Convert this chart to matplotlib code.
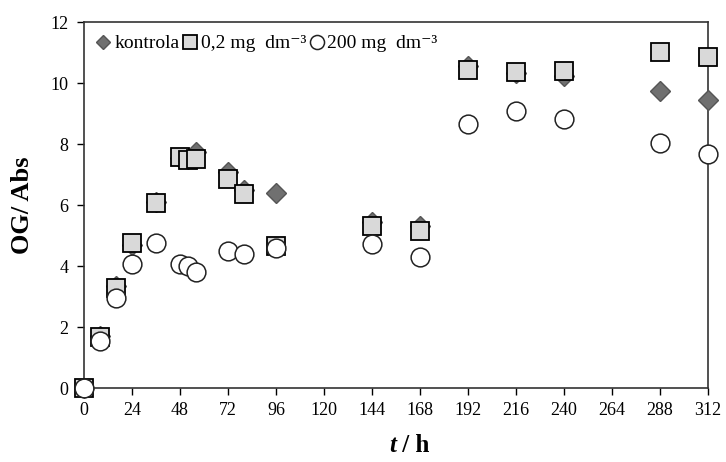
import matplotlib.pyplot as plt

plt.rcParams['font.family'] = ['Liberation Serif', 'DejaVu Serif']

t = [0, 8, 16, 24, 36, 48, 52, 56, 72, 80, 96, 144, 168, 192, 216, 240, 288, 312]
kontrola = [0, 1.7, 3.35, 4.7, 6.1, 7.55, 7.5, 7.75, 7.1, 6.5, 6.39, 5.45, 5.3, 10.56, 10.33, 10.25, 9.74, 9.44]
c02 = [0, 1.67, 3.28, 4.75, 6.07, 7.57, 7.48, 7.5, 6.85, 6.36, 4.66, 5.31, 5.15, 10.43, 10.36, 10.39, 11.02, 10.85]
c200 = [0, 1.54, 2.95, 4.07, 4.75, 4.07, 4.0, 3.82, 4.5, 4.4, 4.6, 4.72, 4.3, 8.66, 9.08, 8.82, 8.03, 7.67]

fig = plt.figure(figsize=(7.26, 4.62), dpi=100)
ax = fig.add_axes([0.1157, 0.160, 0.8593, 0.792])

ax.plot(t, kontrola, 'D', ms=10, mfc='#707070', mec='#555555', mew=1,
        label='kontrola', clip_on=False, zorder=3)
ax.plot(t, c02, 's', ms=13, mfc='#d9d9d9', mec='black', mew=1.3,
        label='0,2 mg  dm\u207b\u00b3', clip_on=False, zorder=4)
ax.plot(t, c200, 'o', ms=13.5, mfc='white', mec='#222222', mew=1.1,
        label='200 mg  dm\u207b\u00b3', clip_on=False, zorder=5)

ax.set_xlim(0, 312)
ax.set_ylim(0, 12)
ax.set_xticks(range(0, 313, 24))
ax.set_yticks(range(0, 13, 2))
ax.tick_params(direction='out', length=5, width=1, labelsize=13)
ax.tick_params(axis='x', pad=5)
ax.tick_params(axis='y', pad=6)
for s in ax.spines.values():
    s.set_linewidth(1.2)
    s.set_color('#333333')

# t / h label, italic t
fig.text(0.5455, 0.022, 't', fontsize=18, fontweight='bold', style='italic', ha='right')
fig.text(0.5455, 0.022, ' / h', fontsize=18, fontweight='bold', ha='left')
ax.set_ylabel('OG/ Abs', fontsize=19, fontweight='bold', labelpad=12)

leg = ax.legend(loc='upper left', ncol=3, frameon=False, fontsize=14,
                markerscale=0.75, handlelength=0.7, handletextpad=0.2,
                columnspacing=0.2, borderaxespad=0.25, bbox_to_anchor=(0.0, 1.0))

fig.savefig('out.png', dpi=100)
